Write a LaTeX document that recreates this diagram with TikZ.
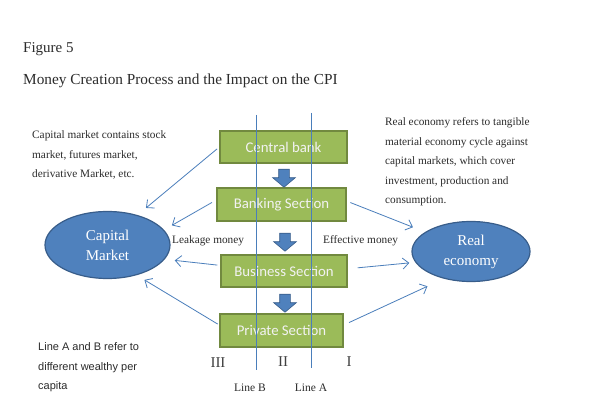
\documentclass[tikz,border=0pt]{standalone}
\usepackage{fontspec}
\setmainfont{Liberation Serif}
\newfontfamily\calibrifont{Carlito}
\newfontfamily\arialfont{Liberation Sans}
\usetikzlibrary{calc,shapes.geometric,shapes.arrows,arrows.meta}

\definecolor{secgreen}{HTML}{9BBB59}
\definecolor{secedge}{HTML}{71893F}
\definecolor{mktblue}{HTML}{4F81BD}
\definecolor{mktedge}{HTML}{385D8A}
\definecolor{linkblue}{HTML}{4A7EBB}
\definecolor{notegray}{HTML}{2B2B2B}

\tikzset{
	section/.style={draw=secedge, line width=1.3pt, fill=secgreen, minimum height=32pt, inner sep=0pt, text=white!95!black, font=\calibrifont\fontsize{14.8}{16}\selectfont},
	market/.style={ellipse, draw=mktedge, line width=1.2pt, fill=mktblue, inner sep=0pt, align=center, text=white, font=\fontsize{15}{20}\selectfont},
	flow/.style={single arrow, draw=mktedge, fill=mktblue, line width=0.6pt, rotate=-90, minimum height=18pt, inner xsep=0pt, inner ysep=5pt, single arrow head extend=6pt, single arrow tip angle=100},
	link/.style={draw=linkblue, line width=0.8pt, -{Straight Barb[length=6pt,width=11pt]}},
	note/.style={anchor=base west, align=left, inner sep=0pt, text=notegray, font=\fontsize{11.3}{19.5}\selectfont},
	numeral/.style={anchor=base, inner sep=0pt, text=black!75, font=\fontsize{15}{18}\selectfont},
}

\begin{document}
\begin{tikzpicture}[x=1pt, y=-1pt]
		%%%%% START %%%%%
		\useasboundingbox[fill=white] (0, 0) rectangle (590, 406);
		
		\node[note, font=\fontsize{15}{18}\selectfont] (fig) at (23, 53) {Figure 5};
		\node[note, font=\fontsize{15.3}{18}\selectfont] (title) at (23, 85) {Money Creation Process and the Impact on the CPI};
		
		% notes: placed by the baseline of their last line
		\node[note] (capnote) at (32, 178) {Capital market contains stock\\market, futures market,\\derivative Market, etc.};
		\node[note] (realnote) at (385, 204) {Real economy refers to tangible\\material economy cycle against\\capital markets, which cover\\investment, production and\\consumption.};
		\node[note, font=\arialfont\fontsize{11}{19.5}\selectfont] (wealthnote) at (38, 390) {Line A and B refer to\\different wealthy per\\capita};
		
		\node[section, minimum width=127pt] (cb) at (283.5, 147) {Central bank};
		\node[section, minimum width=129pt, minimum height=33pt] (bank) at (281.5, 204.5) {Banking Section};
		\node[section, minimum width=126pt] (bus) at (284, 271) {Business Section};
		\node[section, minimum width=123pt, minimum height=33pt] (priv) at (281.5, 330.5) {Private Section};
		
		\node[flow] (down1) at (284, 176) {};
		\node[flow] (down2) at (285, 240) {};
		\node[flow] (down3) at (285, 301) {};
		
		\node[market, minimum width=125pt, minimum height=67pt] (cap) at (107.5, 245) {Capital\\Market};
		\node[market, minimum width=118pt, minimum height=60pt] (real) at (471, 251.5) {Real\\economy};
		
		\node[note] (leak) at (172, 244) {Leakage money};
		\node[note] (effect) at (323, 244) {Effective money};
		
		\draw[link, shorten <=3pt, shorten >=11pt] (cb.west) -- (cap.45);
		\draw[link, shorten <=5pt, shorten >=9pt] (bank.176) -- (cap.15);
		\draw[link, shorten <=3pt, shorten >=10pt] (bus.175) -- (cap.-14);
		\draw[link, shorten <=2pt, shorten >=9pt] (priv.175) -- (cap.-46);
		
		\draw[link, shorten <=4pt, shorten >=13pt] (bank.3) -- (real.157);
		\draw[link, shorten <=10pt, shorten >=6pt] (bus.2) -- (real.191);
		\draw[link, shorten <=6pt, shorten >=18pt] (priv.5) -- (real.225);
		
		% wealth lines
		\coordinate (topB) at (256, 115);
		\coordinate (botB) at (256, 370);
		\coordinate (topA) at (311, 113);
		\coordinate (botA) at (311, 368);
		\draw[draw=linkblue, line width=0.7pt] (topB) -- (botB);
		\draw[draw=linkblue, line width=0.7pt] (topA) -- (botA);
		
		\node[note, anchor=base, font=\fontsize{11.5}{14}\selectfont] (lineB) at (250, 392) {Line B};
		\node[note, anchor=base, font=\fontsize{11.5}{14}\selectfont] (lineA) at (311, 392) {Line A};
		
		\node[numeral] (zone3) at (218, 368) {III};
		\node[numeral] (zone2) at (283, 367) {II};
		\node[numeral] (zone1) at (349, 367) {I};
		
		%%%%% END %%%%%
\end{tikzpicture}
\end{document}
